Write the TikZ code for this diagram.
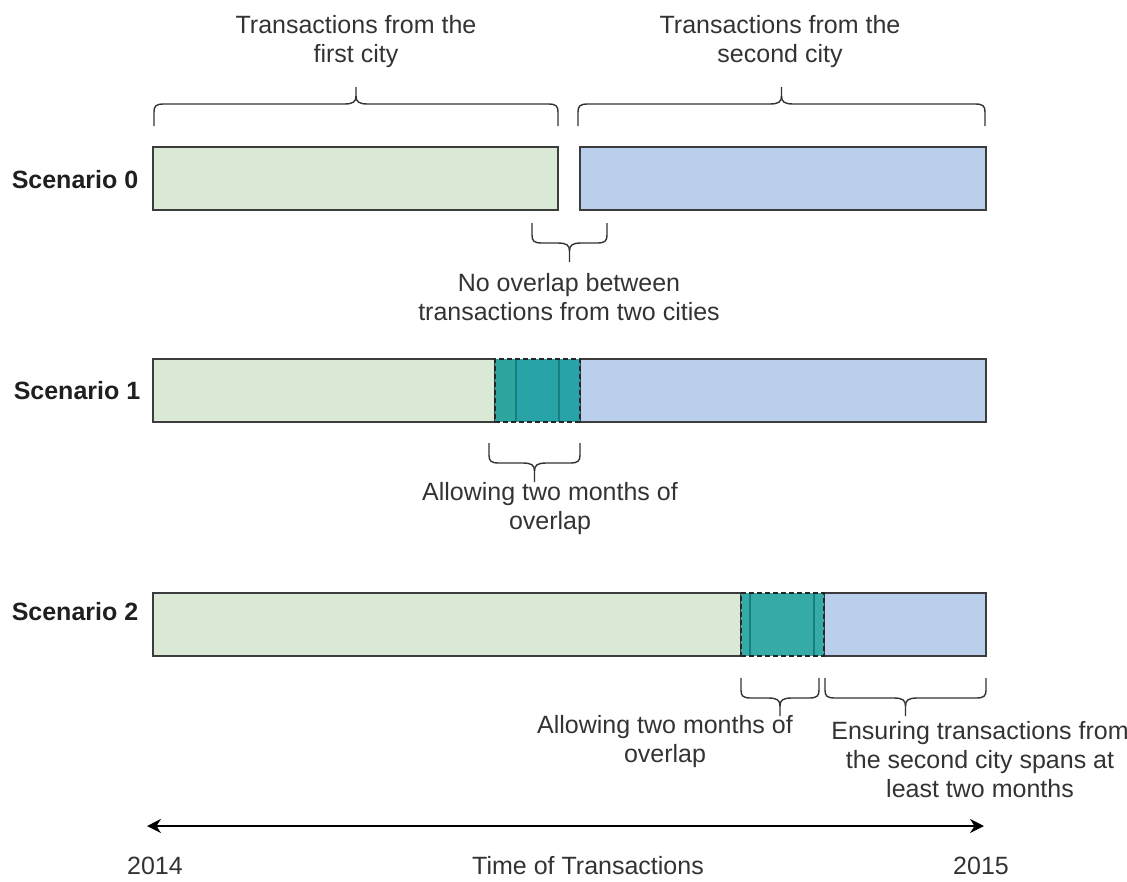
\documentclass[tikz,border=0pt]{standalone}
\usepackage{fontspec}
\setmainfont{Liberation Sans}
\usetikzlibrary{arrows.meta}
\definecolor{gfill}{HTML}{DAE9D6}
\definecolor{bfill}{HTML}{BACFEC}
\definecolor{tealA}{HTML}{2DA59E}
\definecolor{tealB}{HTML}{27A3A7}
\definecolor{tealC}{HTML}{35AAA6}
\definecolor{tline}{HTML}{16807F}
\definecolor{ink}{HTML}{333333}
\definecolor{edge}{HTML}{3C3C3C}
\newcommand\mybrace[5]{%
  \pgfmathsetmacro\brcX{(#1+#2)/2}%
  \pgfmathsetmacro\brcS{(#5>#4)?1:-1}%
  \draw[bracestyle] (#1,#3) -- (#1,{#4-\brcS*8}) .. controls (#1,{#4-\brcS*2}) and ({#1+2},#4) .. ({#1+10},#4)
     -- ({\brcX-12},#4) .. controls ({\brcX-3},#4) and (\brcX,{#4+\brcS*2}) .. (\brcX,{#4+\brcS*8}) -- (\brcX,#5);
  \draw[bracestyle] (#2,#3) -- (#2,{#4-\brcS*8}) .. controls (#2,{#4-\brcS*2}) and ({#2-2},#4) .. ({#2-10},#4)
     -- ({\brcX+12},#4) .. controls ({\brcX+3},#4) and (\brcX,{#4+\brcS*2}) .. (\brcX,{#4+\brcS*8});
}
\begin{document}
\begin{tikzpicture}[x=1pt,y=-1pt,
  bar/.style={draw=edge, line width=1.3pt, inner sep=0pt, outer sep=0pt, minimum height=63pt, anchor=north west},
  seg/.style={inner sep=0pt, outer sep=0pt, minimum height=63pt, anchor=north west},
  ovl/.style={draw=black!85, line width=1.3pt, dash pattern=on 5pt off 3pt, inner sep=0pt, outer sep=0pt, minimum height=63pt, anchor=north west},
  lbl/.style={text=ink, font=\fontsize{25}{29}\selectfont, align=center, inner sep=0pt},
  scen/.style={text=black!88, font=\fontsize{25}{29}\selectfont\bfseries, inner sep=0pt},
  bracestyle/.style={draw=ink, line width=1.4pt},
  sepline/.style={draw=tline, line width=1.3pt},
  timearrow/.style={draw=black, line width=1.6pt, {Stealth[length=14pt,width=14pt]}-{Stealth[length=14pt,width=14pt]}}]
\useasboundingbox (0,0) rectangle (1127,881);

% titles
\node[lbl] (t1) at (356,42) {Transactions from the\\first city};
\node[lbl] (t2) at (780,42) {Transactions from the\\second city};
\mybrace{154}{558}{126}{104}{87}
\mybrace{578}{985}{126}{104}{87}

% Scenario 0
\node[scen] (s0) at (75,180) {Scenario 0};
\node[bar, fill=gfill, minimum width=405pt] (g0) at (153,147) {};
\node[bar, fill=bfill, minimum width=406pt] (b0) at (580,147) {};
\mybrace{532}{607}{223}{243}{262}
\node[lbl] (n0) at (569,297) {No overlap between\\transactions from two cities};

% Scenario 1
\node[scen] (s1) at (77,391) {Scenario 1};
\node[bar, fill=gfill, minimum width=342pt] (g1) at (153,359) {};
\node[bar, fill=bfill, minimum width=406pt] (b1) at (580,359) {};
\node[seg, fill=tealA, minimum width=21pt] (o1a) at (495,359) {};
\node[seg, fill=tealB, minimum width=64pt] (o1b) at (516,359) {};
\draw[sepline] (o1b.north west) -- (o1b.south west);
\draw[sepline] ([xshift=43pt]o1b.north west) -- ([xshift=43pt]o1b.south west);
\node[ovl, minimum width=85pt] (o1) at (495,359) {};
\mybrace{489}{580}{443}{463}{482}
\node[lbl] (n1) at (550,509) {Allowing two months of\\overlap};

% Scenario 2
\node[scen] (s2) at (75,612) {Scenario 2};
\node[bar, fill=gfill, minimum width=588pt] (g2) at (153,593) {};
\node[bar, fill=bfill, minimum width=162pt] (b2) at (824,593) {};
\node[seg, fill=tealC, minimum width=83pt] (o2b) at (741,593) {};
\draw[sepline] ([xshift=9pt]o2b.north west) -- ([xshift=9pt]o2b.south west);
\draw[sepline] ([xshift=73pt]o2b.north west) -- ([xshift=73pt]o2b.south west);
\node[ovl, minimum width=83pt] (o2) at (741,593) {};
\mybrace{741}{819}{678}{698}{716}
\mybrace{825}{986}{678}{698}{716}
\node[lbl] (n2) at (665,742) {Allowing two months of\\overlap};
\node[lbl] (n3) at (980,760) {Ensuring transactions from\\the second city spans at\\least two months};

% time axis
\coordinate (ta) at (147,826);
\coordinate (tb) at (984,826);
\draw[timearrow] (ta) -- (tb);
\node[lbl] (y0) at (155,866) {2014};
\node[lbl] (tt) at (588,866) {Time of Transactions};
\node[lbl] (y1) at (981,866) {2015};
\end{tikzpicture}
\end{document}
